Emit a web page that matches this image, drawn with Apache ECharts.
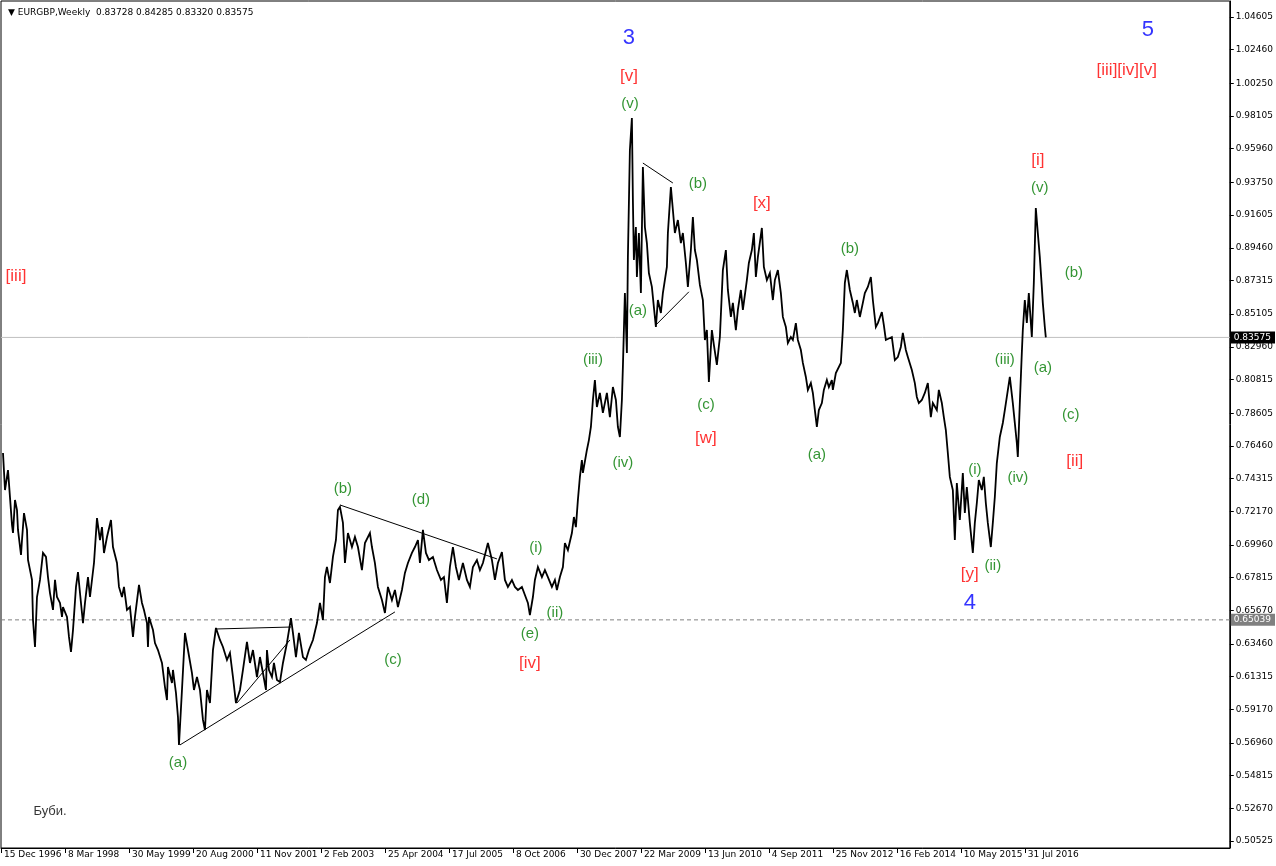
<!DOCTYPE html>
<html>
<head>
<meta charset="utf-8">
<script src="https://cdn.jsdelivr.net/npm/echarts@6/dist/echarts.min.js"></script>
<style>
html,body{margin:0;padding:0;background:#fff;}
#chart{width:1276px;height:866px;}
</style>
</head>
<body>
<div id="chart"></div>
<script>
// ---- data: [week index since 15 Dec 1996, close price] ----
const seg1997_2000 = [[2,0.7599],[4,0.7356],[7,0.7487],[11,0.7127],[12,0.7074],[14,0.7291],[16,0.7225],[17,0.7094],[20,0.6930],[21,0.7028],[23,0.7205],[26,0.7094],[27,0.6897],[31,0.6766],[32,0.6503],[34,0.6326],[36,0.6654],[39,0.6766],[42,0.6943],[45,0.6917],[47,0.6785],[49,0.6680],[52,0.6569],[54,0.6766],[56,0.6654],[59,0.6615],[61,0.6523],[62,0.6588],[66,0.6523],[68,0.6392],[70,0.6293],[72,0.6437],[75,0.6720],[77,0.6818],[79,0.6680],[82,0.6483],[84,0.6615],[87,0.6785],[89,0.6654],[93,0.6877],[96,0.7172],[99,0.7028],[101,0.7113],[103,0.6943],[106,0.7048],[110,0.7159],[112,0.6982],[116,0.6877],[118,0.6720],[121,0.6654],[123,0.6720],[126,0.6569],[129,0.6588],[132,0.6392],[134,0.6523],[138,0.6733],[141,0.6615],[143,0.6569],[146,0.6483],[147,0.6326],[148,0.6523],[152,0.6437],[154,0.6352],[157,0.6306],[161,0.6221],[164,0.6063],[166,0.5978],[167,0.6195],[171,0.6090],[172,0.6175],[175,0.6024],[177,0.5866],[178,0.5683]];
const seg2000_2003 = [[181,0.6044],[184,0.6418],[187,0.6306],[191,0.6155],[193,0.6044],[196,0.6129],[199,0.6044],[202,0.5847],[204,0.5781],[206,0.6044],[209,0.5958],[212,0.6306],[215,0.6451],[219,0.6372],[222,0.6326],[226,0.6241],[229,0.6287],[232,0.6129],[235,0.5958],[239,0.6044],[242,0.6175],[246,0.6359],[249,0.6221],[252,0.6306],[256,0.6129],[259,0.6260],[262,0.6155],[265,0.6044],[266,0.6306],[268,0.6175],[271,0.6129],[273,0.6221],[276,0.6109],[279,0.6096],[282,0.6221],[286,0.6352],[290,0.6516],[292,0.6418],[295,0.6260],[298,0.6418],[302,0.6260],[305,0.6241],[308,0.6306],[312,0.6372],[316,0.6483],[319,0.6615],[322,0.6503],[324,0.6785],[326,0.6851],[329,0.6746],[332,0.6917],[335,0.7028],[337,0.7225],[339,0.7245]];
const seg2003_2007 = [[342,0.7140],[344,0.6877],[347,0.7074],[351,0.6982],[354,0.7048],[357,0.6982],[361,0.6831],[364,0.7008],[369,0.7074],[371,0.6982],[374,0.6877],[377,0.6720],[381,0.6634],[384,0.6549],[387,0.6720],[391,0.6634],[394,0.6700],[397,0.6588],[401,0.6700],[404,0.6812],[407,0.6877],[411,0.6943],[414,0.6982],[417,0.7028],[419,0.6877],[422,0.7094],[425,0.6943],[428,0.6897],[432,0.6917],[436,0.6831],[440,0.6766],[443,0.6785],[446,0.6615],[449,0.6851],[452,0.6982],[455,0.6851],[458,0.6766],[462,0.6877],[466,0.6766],[469,0.6720],[472,0.6851],[476,0.6897],[479,0.6831],[482,0.6877],[487,0.7008],[491,0.6897],[494,0.6766],[497,0.6877],[501,0.6949],[504,0.6766],[507,0.6720],[511,0.6766],[514,0.6720],[517,0.6700],[521,0.6720],[524,0.6667],[527,0.6615],[529,0.6536],[532,0.6654],[534,0.6766],[537,0.6851],[541,0.6785],[544,0.6831],[547,0.6785],[551,0.6720],[554,0.6766],[556,0.6700],[559,0.6785]];
const seg2008_2010 = [[562,0.6851],[564,0.7008],[567,0.6962],[571,0.7074],[573,0.7179],[575,0.7113],[577,0.7291],[579,0.7442],[581,0.7553],[582,0.7468],[586,0.7619],[588,0.7684],[590,0.7770],[592,0.7947],[594,0.8078],[596,0.7901],[599,0.7993],[602,0.7862],[606,0.7993],[609,0.7835],[612,0.8032],[615,0.7947],[617,0.7770],[619,0.7704],[621,0.7947],[622,0.8163],[624,0.8649],[626,0.8255],[627,0.8885],[629,0.9588],[631,0.9798],[632,0.9260],[633,0.8866],[635,0.9082],[636,0.8754],[638,0.9043],[640,0.8649],[642,0.9476],[644,0.9082],[646,0.8977],[648,0.8780],[651,0.8689],[653,0.8557],[655,0.8426],[657,0.8603],[660,0.8518],[662,0.8649],[666,0.8820],[667,0.9043],[670,0.9345],[672,0.9194],[674,0.9043],[677,0.9128],[680,0.8977],[682,0.9043],[685,0.8846],[687,0.8689],[690,0.8931],[692,0.9148],[694,0.8931],[696,0.8866],[699,0.8702],[702,0.8603],[704,0.8341],[706,0.8406],[708,0.8065],[711,0.8406],[713,0.8308],[716,0.8177],[719,0.8360],[722,0.8800],[725,0.8931],[727,0.8669]];
const seg2010_2013 = [[730,0.8492],[732,0.8584],[735,0.8406],[737,0.8538],[740,0.8669],[742,0.8538],[746,0.8734],[748,0.8846],[751,0.8931],[753,0.9043],[755,0.8754],[757,0.8885],[761,0.9076],[763,0.8820],[766,0.8734],[769,0.8780],[772,0.8603],[774,0.8734],[777,0.8800],[780,0.8649],[782,0.8492],[785,0.8426],[787,0.8321],[790,0.8360],[792,0.8341],[795,0.8452],[797,0.8341],[800,0.8275],[802,0.8190],[805,0.8098],[807,0.8013],[810,0.8058],[812,0.7993],[814,0.7881],[816,0.7770],[818,0.7881],[821,0.7927],[823,0.8013],[826,0.8078],[828,0.8032],[831,0.8078],[832,0.8013],[835,0.8124],[840,0.8190],[842,0.8406],[844,0.8715],[846,0.8800],[849,0.8669],[852,0.8584],[854,0.8518],[856,0.8603],[859,0.8492],[862,0.8584],[864,0.8649],[867,0.8689],[870,0.8754],[872,0.8603],[875,0.8426],[877,0.8452],[881,0.8524],[883,0.8439],[885,0.8341],[887,0.8341]];
const seg2013_2016 = [[891,0.8360],[894,0.8209],[897,0.8229],[900,0.8295],[902,0.8387],[905,0.8275],[907,0.8229],[911,0.8144],[914,0.8058],[916,0.7967],[918,0.7927],[921,0.7947],[924,0.7993],[927,0.8058],[930,0.7835],[932,0.7927],[936,0.7881],[938,0.8013],[941,0.7927],[943,0.7835],[945,0.7750],[947,0.7599],[949,0.7442],[952,0.7356],[954,0.7028],[956,0.7402],[959,0.7159],[962,0.7468],[964,0.7205],[966,0.7376],[969,0.7140],[972,0.6943],[974,0.7140],[976,0.7271],[978,0.7422],[981,0.7356],[983,0.7442],[985,0.7271],[987,0.7140],[990,0.6982],[992,0.7140],[994,0.7310],[996,0.7533],[999,0.7704],[1002,0.7796],[1004,0.7881],[1006,0.7967],[1009,0.8098],[1012,0.7927],[1014,0.7796],[1016,0.7665],[1017,0.7573],[1019,0.7927],[1021,0.8255],[1022,0.8406],[1024,0.8603],[1026,0.8452],[1028,0.8649],[1031,0.8360],[1033,0.8715],[1035,0.9207],[1037,0.9043],[1039,0.8885],[1041,0.8689],[1042,0.8584],[1044,0.8426],[1045,0.83575]];

// drawn trend lines: pairs of [week, price]
const trendLines = [
  [[179,0.5683],[394,0.6556]],
  [[339,0.7258],[496,0.6904]],
  [[215,0.6444],[290,0.6457]],
  [[236,0.5958],[289,0.6372]],
  [[642,0.9502],[672,0.9371]],
  [[655,0.8439],[688,0.8657]]
];

// wave labels: [week, price, text, colour key]
const waveLabels = [
  [15,0.8761,'[iii]','r'],
  [177,0.5565,'(a)','g'],[342,0.7363,'(b)','g'],[392,0.6241,'(c)','g'],[420,0.7291,'(d)','g'],
  [529,0.6411,'(e)','g'],[529,0.6221,'[iv]','r'],
  [535,0.6976,'(i)','g'],[554,0.6549,'(ii)','g'],[592,0.8209,'(iii)','g'],[622,0.7533,'(iv)','g'],
  [629,0.9890,'(v)','g'],[628,1.0073,'[v]','r'],[628,1.0323,'3','b'],
  [637,0.8531,'(a)','g'],[697,0.9365,'(b)','g'],[705,0.7914,'(c)','g'],[705,0.7698,'[w]','r'],
  [761,0.9240,'[x]','r'],[816,0.7586,'(a)','g'],[849,0.8938,'(b)','g'],
  [969,0.6805,'[y]','r'],[969,0.6615,'4','b'],
  [974,0.7487,'(i)','g'],[992,0.6857,'(ii)','g'],[1004,0.8209,'(iii)','g'],[1017,0.7435,'(iv)','g'],
  [1039,0.9338,'(v)','g'],[1037,0.9522,'[i]','r'],[1042,0.8157,'(a)','g'],
  [1073,0.8780,'(b)','g'],[1070,0.7849,'(c)','g'],[1074,0.7547,'[ii]','r'],
  [1147,1.0375,'5','b'],[1126,1.0113,'[iii][iv][v]','r'],
  [49,0.5249,'Буби.','k']
];

const dateLabels = ['15 Dec 1996','8 Mar 1998','30 May 1999','20 Aug 2000','11 Nov 2001','2 Feb 2003','25 Apr 2004','17 Jul 2005','8 Oct 2006','30 Dec 2007','22 Mar 2009','13 Jun 2010','4 Sep 2011','25 Nov 2012','16 Feb 2014','10 May 2015','31 Jul 2016'];
const dateWeeks = [0,64,128,192,256,320,384,448,512,576,640,704,768,832,896,960,1024];
const priceTicks = [1.04605,1.02460,1.00250,0.98105,0.95960,0.93750,0.91605,0.89460,0.87315,0.85105,0.82960,0.80815,0.78605,0.76460,0.74315,0.72170,0.69960,0.67815,0.65670,0.63460,0.61315,0.59170,0.56960,0.54815,0.52670,0.50525];
const lastPrice = 0.83575;
const levelPrice = 0.65039;
const headerText = '\u25BC EURGBP,Weekly  0.83728 0.84285 0.83320 0.83575';

// ---- chart ----
const colours = {g:'#007a00', r:'#ff0000', b:'#0000ff', k:'#000000'};
const sizes = {g:15, r:17, b:22, k:13};
const closeSeries = [].concat(seg1997_2000, seg2000_2003, seg2003_2007, seg2008_2010, seg2010_2013, seg2013_2016);
const axisFont = 'DejaVu Sans';
const X_MIN = 0, X_MAX = 1229;

function levelLine(price, colour, dash, boxColour){
  return {
    type:'line', data:[[X_MIN, price],[X_MAX, price]], showSymbol:false, symbol:'none', silent:true, z:2,
    lineStyle:{color:colour, width:1, type:dash},
    endLabel:{show:true, formatter:price.toFixed(5), distance:1, color:'#fff', backgroundColor:boxColour,
      padding:[2,4,1,3], fontFamily:axisFont, fontSize:9}
  };
}

const series = [
  levelLine(lastPrice, '#c0c0c0', 'solid', '#000'),
  levelLine(levelPrice, '#808080', [4,3], '#808080'),
  {type:'line', data:closeSeries, showSymbol:false, symbol:'none',
   lineStyle:{color:'#000', width:1.8, join:'miter', miterLimit:4}, z:3}
];

trendLines.forEach(function(seg){
  series.push({type:'line', data:seg, showSymbol:false, symbol:'none', lineStyle:{color:'#000', width:1}, z:4, silent:true});
});

series.push({
  type:'scatter', symbolSize:0, z:6, silent:true, clip:false,
  data: waveLabels.map(function(l){
    return {value:[l[0], l[1]], name:l[2],
      label:{show:true, position:'inside', formatter:l[2], color:colours[l[3]],
        fontFamily:'Liberation Sans', fontSize:sizes[l[3]]}};
  })
});

const chart = echarts.init(document.getElementById('chart'), null, {renderer:'canvas'});
chart.setOption({
  animation:false,
  backgroundColor:'#fff',
  title:{text:headerText, left:3, top:3, textStyle:{fontFamily:axisFont, fontSize:9, fontWeight:'normal', color:'#000'}},
  grid:{left:1, right:46, top:1, bottom:18, show:true, borderColor:'#000', borderWidth:1, backgroundColor:'#fff'},
  xAxis:{type:'value', min:X_MIN, max:X_MAX,
    axisLine:{show:true, onZero:false, lineStyle:{color:'#000'}},
    axisTick:{show:true, customValues:dateWeeks, length:5, lineStyle:{color:'#000'}},
    axisLabel:{customValues:dateWeeks, formatter:function(v){ const i = dateWeeks.indexOf(v); return i>=0 ? dateLabels[i] : ''; },
      align:'left', padding:[0,0,0,3], margin:2, fontFamily:axisFont, fontSize:9, color:'#000'},
    splitLine:{show:false}},
  yAxis:{type:'value', position:'right', min:0.50067, max:1.05655,
    axisLine:{show:true, onZero:false, lineStyle:{color:'#000'}},
    axisTick:{show:true, customValues:priceTicks, length:4, lineStyle:{color:'#000'}},
    axisLabel:{customValues:priceTicks, formatter:function(v){ return v.toFixed(5); }, margin:6, fontFamily:axisFont, fontSize:9, color:'#000'},
    splitLine:{show:false}},
  series:series
});
</script>
</body>
</html>
